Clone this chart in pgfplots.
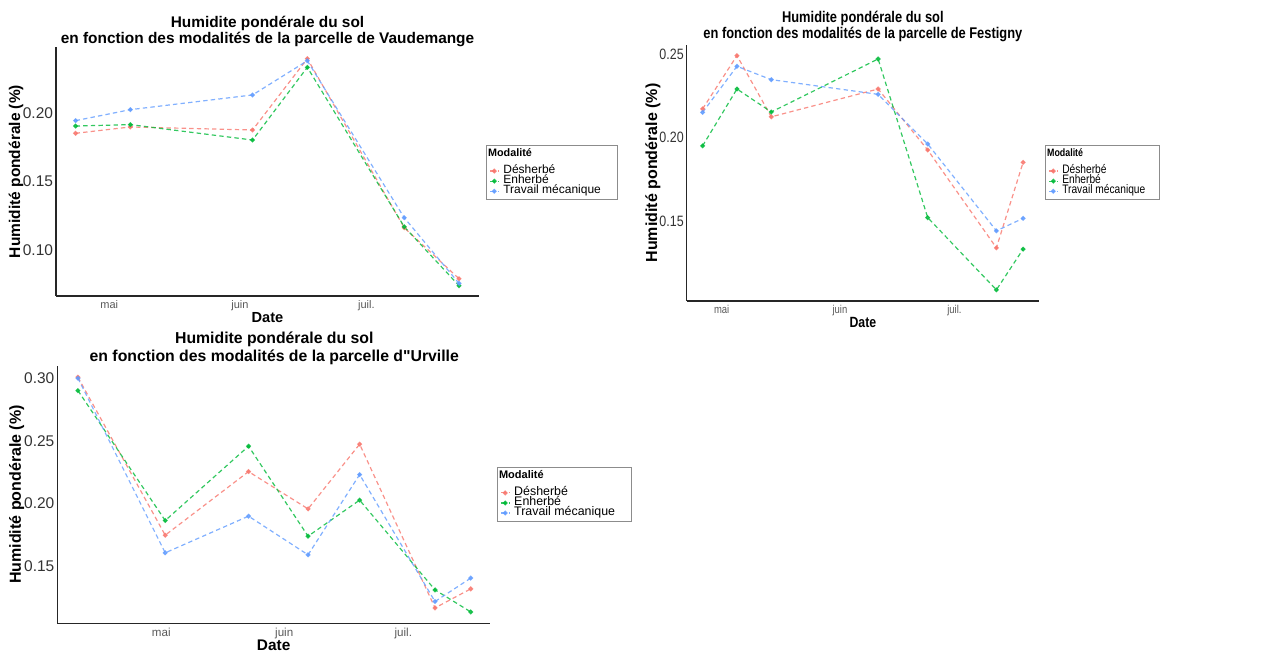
\documentclass[border=0pt]{standalone}
\usepackage{fontspec}
\setmainfont{Liberation Sans}[Ligatures=TeXOff]
\newfontfamily\nar[FakeStretch=0.83,Ligatures=TeXOff]{Liberation Sans}
\usepackage{pgfplots}
\pgfplotsset{compat=1.18}
\definecolor{cR}{HTML}{F8766D}
\definecolor{cG}{HTML}{00BA38}
\definecolor{cB}{HTML}{619CFF}
\pgfplotsset{
 base/.style={
  scale only axis,
  axis x line*=bottom, axis y line*=left,
  axis line style={draw=black!85, line width=0.7pt},
  major tick length=0pt,
  xtick={0,31,61}, xticklabels={mai,juin,juil.},
  /pgf/number format/assume math mode=true,
  y tick label style={/pgf/number format/fixed, /pgf/number format/fixed zerofill, /pgf/number format/precision=2},
  yticklabel style={inner sep=0pt, xshift=-1.3pt, anchor=east, text=black!80},
  xticklabel style={inner sep=0pt, yshift=-2pt, anchor=north, text=black!65},
  title style={align=center, anchor=center, yshift=-6pt},
  xlabel={Date}, ylabel={Humidité pondérale (\%)},
  legend cell align=left,
  legend image code/.code={\draw[mark repeat=2,mark phase=2,##1] plot coordinates {(0pt,0pt) (2pt,0pt) (4pt,0pt)};},
  legend style={anchor=north west, draw=black!45, line width=0.5pt, row sep=0pt, inner sep=1.6pt,
     nodes={inner ysep=0.4pt, inner xsep=2.2pt, text height=3.4pt, text depth=0.85pt}},
 },
 ser/.style={color=#1, line width=0.6pt, dash pattern=on 2.2pt off 1.6pt, mark=*, mark size=0.9pt, mark options={solid}, opacity=0.8},
}
\begin{document}
\begin{tikzpicture}
\useasboundingbox (0,0) rectangle (641.5pt,326pt);
% ---------------- Vaudemange
\begin{axis}[base,
  at={(28pt,178pt)}, anchor=south west, width=211.5pt, height=124.5pt,
  xmin=-12.65, xmax=87.75, ymin=0.0666, ymax=0.2478,
  ytick={0.10,0.15,0.20},
  yticklabel style={font=\fontsize{7.75}{8}\selectfont},
  xticklabel style={font=\fontsize{5.5}{6}\selectfont},
  title={Humidite pondérale du sol\\en fonction des modalités de la parcelle de Vaudemange},
  title style={font=\bfseries\fontsize{7.7}{8.3}\selectfont, at={(axis description cs:0.5,1.063)}},
  ylabel style={font=\bfseries\fontsize{7.75}{8}\selectfont, at={(axis description cs:-0.0946,0.5)}, anchor=center},
  xlabel style={font=\bfseries\fontsize{7.3}{8}\selectfont, at={(axis description cs:0.5,-0.088)}, anchor=center},
  legend style={at={(axis description cs:1.0166,0.606)}, font=\fontsize{6}{6}\selectfont},
]
\addlegendimage{empty legend}\addlegendentry[text depth=4.4pt]{\hspace*{-7.6pt}\fontsize{5.4}{6}\selectfont\bfseries Modalité}
\addplot[ser=cR] coordinates {(-8,0.185) (5,0.1896) (34,0.1874) (47,0.2393) (70,0.1163) (83,0.0792)};
\addlegendentry{Désherbé}
\addplot[ser=cG] coordinates {(-8,0.1903) (5,0.1913) (34,0.1801) (47,0.233) (70,0.117) (83,0.0741)};
\addlegendentry{Enherbé}
\addplot[ser=cB] coordinates {(-8,0.1942) (5,0.2022) (34,0.2129) (47,0.2378) (70,0.1236) (83,0.0758)};
\addlegendentry{Travail mécanique\hspace*{4.5pt}}
\end{axis}
% ---------------- Festigny
\begin{axis}[base,
  at={(343.35pt,175.5pt)}, anchor=south west, width=176.15pt, height=128pt,
  xmin=-9.17, xmax=83.17, ymin=0.102, ymax=0.2556,
  ytick={0.15,0.20,0.25},
  yticklabel style={font=\nar\fontsize{7.5}{8}\selectfont},
  xticklabel style={font=\nar\fontsize{5.7}{6}\selectfont},
  title={Humidite pondérale du sol\\en fonction des modalités de la parcelle de Festigny},
  title style={font=\nar\bfseries\fontsize{7.75}{8.3}\selectfont, at={(axis description cs:0.5,1.073)}},
  ylabel style={font=\bfseries\fontsize{8}{8}\selectfont, at={(axis description cs:-0.0957,0.5)}, anchor=center},
  xlabel style={font=\nar\bfseries\fontsize{7.4}{8}\selectfont, at={(axis description cs:0.5,-0.0848)}, anchor=center},
  legend style={at={(axis description cs:1.017,0.609)}, font=\nar\fontsize{6.15}{6}\selectfont},
]
\addlegendimage{empty legend}\addlegendentry[text depth=4.4pt]{\hspace*{-7.6pt}\fontsize{5.35}{6}\selectfont\bfseries Modalité}
\addplot[ser=cR] coordinates {(-5,0.2173) (4,0.2492) (13,0.2125) (41,0.2292) (54,0.1926) (72,0.1339) (79,0.1852)};
\addlegendentry{Désherbé}
\addplot[ser=cG] coordinates {(-5,0.1951) (4,0.2292) (13,0.2154) (41,0.2472) (54,0.152) (72,0.1087) (79,0.1331)};
\addlegendentry{Enherbé}
\addplot[ser=cB] coordinates {(-5,0.2152) (4,0.2428) (13,0.2348) (41,0.226) (54,0.1962) (72,0.1441) (79,0.1516)};
\addlegendentry{Travail mécanique\hspace*{3.5pt}}
\end{axis}
% ---------------- Urville
\begin{axis}[base,
  at={(28.65pt,14.35pt)}, anchor=south west, width=216.35pt, height=128.8pt,
  xmin=-26.2, xmax=82.86, ymin=0.1042, ymax=0.310,
  ytick={0.15,0.20,0.25,0.30},
  yticklabel style={font=\fontsize{7.75}{8}\selectfont},
  xticklabel style={font=\fontsize{5.8}{6}\selectfont},
  title={Humidite pondérale du sol\\en fonction des modalités de la parcelle d"Urville},
  title style={font=\bfseries\fontsize{7.9}{8.7}\selectfont, at={(axis description cs:0.5015,1.068)}},
  ylabel style={font=\bfseries\fontsize{8}{8}\selectfont, at={(axis description cs:-0.0938,0.5)}, anchor=center},
  xlabel style={font=\bfseries\fontsize{7.7}{8}\selectfont, at={(axis description cs:0.5,-0.087)}, anchor=center},
  legend style={at={(axis description cs:1.016,0.607)}, font=\fontsize{6.2}{6.2}\selectfont},
]
\addlegendimage{empty legend}\addlegendentry[text depth=4.4pt]{\hspace*{-7.6pt}\fontsize{5.5}{6}\selectfont\bfseries Modalité}
\addplot[ser=cR] coordinates {(-21,0.3008) (1,0.1746) (22,0.2254) (37,0.1956) (50,0.2473) (69,0.1165) (78,0.1317)};
\addlegendentry{Désherbé}
\addplot[ser=cG] coordinates {(-21,0.2901) (1,0.1863) (22,0.2457) (37,0.1738) (50,0.2026) (69,0.1309) (78,0.1133)};
\addlegendentry{Enherbé}
\addplot[ser=cB] coordinates {(-21,0.300) (1,0.1605) (22,0.1898) (37,0.1589) (50,0.223) (69,0.1216) (78,0.1403)};
\addlegendentry{Travail mécanique\hspace*{4.5pt}}
\end{axis}
\end{tikzpicture}
\end{document}
